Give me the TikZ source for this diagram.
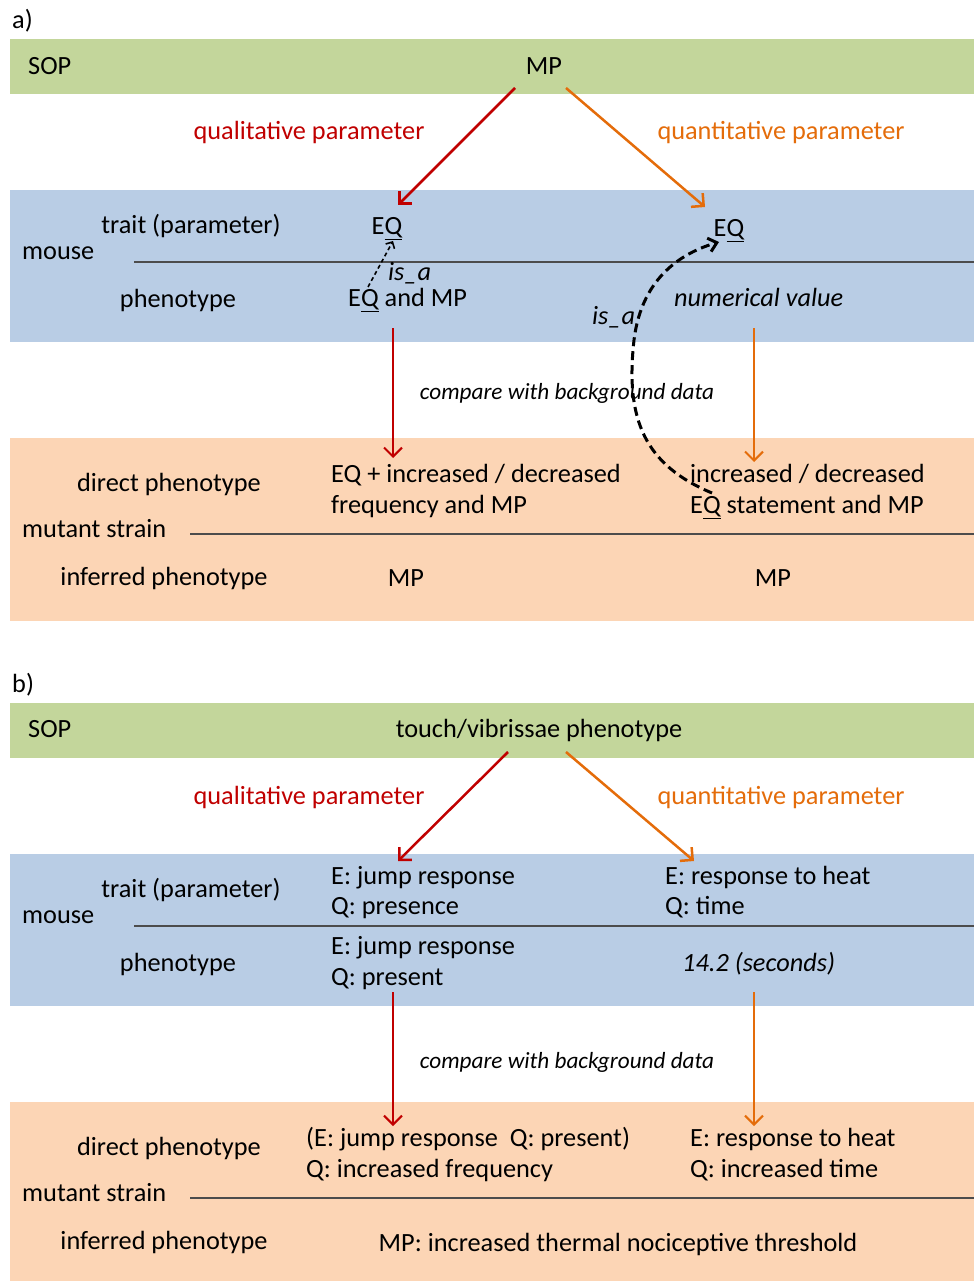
\documentclass[tikz,border=0pt]{standalone}
\usepackage{fontspec}
\setmainfont{Carlito}
\usetikzlibrary{arrows.meta}
\definecolor{bandgreen}{HTML}{C3D69B}
\definecolor{bandblue}{HTML}{B9CDE5}
\definecolor{bandpeach}{HTML}{FCD5B5}
\definecolor{qred}{HTML}{C00000}
\definecolor{qorange}{HTML}{E46C0A}
\begin{document}
\begin{tikzpicture}[x=1pt,y=-1pt,
  txt/.style={inner sep=0pt,text height=19pt,text depth=2pt,font=\fontsize{26.3}{31}\selectfont},
  lt/.style={txt,anchor=west},
  itxt/.style={txt,font=\fontsize{23.2}{28}\itshape},
  divider/.style={draw=black!70,line width=1.2pt},
  redarrow/.style={draw=qred,line width=2.5pt,-{Straight Barb[length=9pt,width=18pt]}},
  orangearrow/.style={draw=qorange,line width=2.5pt,-{Straight Barb[length=9pt,width=18pt]}},
  isaarrow/.style={draw=black,line width=1.6pt,dash pattern=on 4pt off 3pt,-{Straight Barb[length=5pt,width=10pt]}},
  bigisa/.style={draw=black,line width=3pt,dash pattern=on 9pt off 5pt,-{Straight Barb[length=8pt,width=14pt]}}
]
\useasboundingbox (0,0) rectangle (974,1281);
% ---------------- panel a ----------------
\fill[bandgreen] (10,39) rectangle (974,94);
\fill[bandblue] (10,190) rectangle (974,342);
\fill[bandpeach] (10,438) rectangle (974,621);
\draw[divider] (134,262) -- (974,262);
\draw[divider] (190,534) -- (974,534);

\node[lt] (labA) at (12,20) {a)};
\node[lt] (sopA) at (28,66) {SOP};
\node[txt] (mpA) at (544,66) {MP};
\node[txt,text=qred] (qualA) at (309,131) {qualitative parameter};
\node[txt,text=qorange] (quantA) at (781,131) {quantitative parameter};
\node[txt] (traitA) at (191,225) {trait (parameter)};
\node[lt] (mouseA) at (22,251) {mouse};
\node[txt] (phenoA) at (178,299) {phenotype};
\node[txt] (eqA) at (387,226) {E\underline{Q}};
\node[txt] (eqB) at (729,228) {E\underline{Q}};
\node[lt,font=\fontsize{26.3}{31}\itshape] (isaA) at (388,272) {is\_a};
\node[lt] (eqmpA) at (348,298) {E\underline{Q} and MP};
\node[lt,font=\fontsize{26.3}{31}\itshape] (isaB) at (592,316) {is\_a};
\node[lt,font=\fontsize{26.3}{31}\itshape] (numA) at (674,298) {numerical value};
\node[itxt] (cmpA) at (567,391) {compare with background data};
\node[txt] (directA) at (169,483) {direct phenotype};
\node[lt] (mutA) at (22,529) {mutant strain};
\node[txt] (infA) at (164,577) {inferred phenotype};
\node[lt] (dirLA1) at (331,474) {EQ + increased / decreased};
\node[lt] (dirLA2) at (331,505) {frequency and MP};
\node[lt] (dirRA1) at (690,474) {increased / decreased};
\node[lt] (dirRA2) at (690,505) {E\underline{Q} statement and MP};
\node[txt] (infLA) at (406,578) {MP};
\node[txt] (infRA) at (773,578) {MP};

\coordinate (aRedS) at (515,88);
\coordinate (aRedE) at (398,205);
\coordinate (aOrS) at (566,88);
\coordinate (aOrE) at (705,207);
\coordinate (aRedD1) at (393,328);
\coordinate (aRedD2) at (393,458);
\coordinate (aOrD1) at (754,328);
\coordinate (aOrD2) at (754,462);
\coordinate (isaS) at (368,287);
\coordinate (isaE) at (393,241);
\coordinate (bigS) at (712,493);
\coordinate (bigE) at (719,242);

\draw[redarrow] (aRedS) -- (aRedE);
\draw[orangearrow] (aOrS) -- (aOrE);
\draw[redarrow,line width=2pt] (aRedD1) -- (aRedD2);
\draw[orangearrow,line width=2pt] (aOrD1) -- (aOrD2);
\draw[isaarrow] (isaS) -- (isaE);
\draw[bigisa] (bigS) .. controls (645,465) and (625,420) .. (634,340)
  .. controls (642,275) and (685,252) .. (bigE);

% ---------------- panel b ----------------
\fill[bandgreen] (10,703) rectangle (974,758);
\fill[bandblue] (10,854) rectangle (974,1006);
\fill[bandpeach] (10,1102) rectangle (974,1281);
\draw[divider] (134,926) -- (974,926);
\draw[divider] (190,1198) -- (974,1198);

\node[lt] (labB) at (12,684) {b)};
\node[lt] (sopB) at (28,729) {SOP};
\node[txt] (mpB) at (539,729) {touch/vibrissae phenotype};
\node[txt,text=qred] (qualB) at (309,796) {qualitative parameter};
\node[txt,text=qorange] (quantB) at (781,796) {quantitative parameter};
\node[txt] (traitB) at (191,889) {trait (parameter)};
\node[lt] (mouseB) at (22,915) {mouse};
\node[txt] (phenoB) at (178,963) {phenotype};
\node[lt] (tLB1) at (331,876) {E: jump response};
\node[lt] (tLB2) at (331,906) {Q: presence};
\node[lt] (tRB1) at (665,876) {E: response to heat};
\node[lt] (tRB2) at (665,906) {Q: time};
\node[lt] (pLB1) at (331,946) {E: jump response};
\node[lt] (pLB2) at (331,977) {Q: present};
\node[lt,font=\fontsize{26.3}{31}\itshape] (pRB) at (682,963) {14.2 (seconds)};
\node[itxt] (cmpB) at (567,1060) {compare with background data};
\node[txt] (directB) at (169,1147) {direct phenotype};
\node[lt] (mutB) at (22,1193) {mutant strain};
\node[txt] (infB) at (164,1241) {inferred phenotype};
\node[lt] (dLB1) at (306,1138) {(E: jump response\ \ Q: present)};
\node[lt] (dLB2) at (306,1169) {Q: increased frequency};
\node[lt] (dRB1) at (690,1138) {E: response to heat};
\node[lt] (dRB2) at (690,1169) {Q: increased time};
\node[txt] (infMB) at (618,1243) {MP: increased thermal nociceptive threshold};

\coordinate (bRedS) at (508,752);
\coordinate (bRedE) at (398,861);
\coordinate (bOrS) at (566,752);
\coordinate (bOrE) at (694,861);
\coordinate (bRedD1) at (393,992);
\coordinate (bRedD2) at (393,1126);
\coordinate (bOrD1) at (754,992);
\coordinate (bOrD2) at (754,1126);

\draw[redarrow] (bRedS) -- (bRedE);
\draw[orangearrow] (bOrS) -- (bOrE);
\draw[redarrow,line width=2pt] (bRedD1) -- (bRedD2);
\draw[orangearrow,line width=2pt] (bOrD1) -- (bOrD2);
\end{tikzpicture}
\end{document}
